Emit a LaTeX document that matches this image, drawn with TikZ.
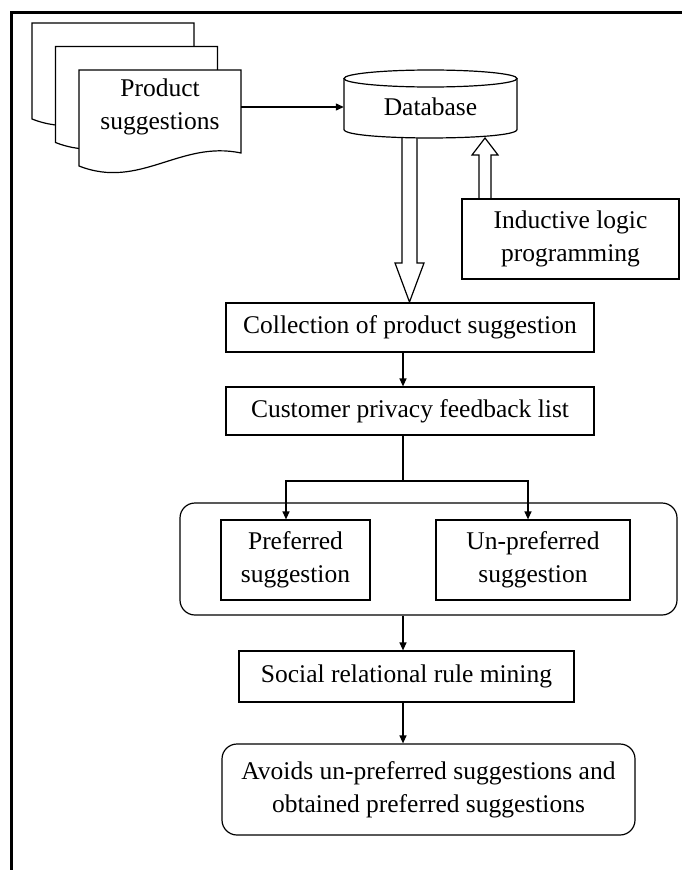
\documentclass[tikz,border=0pt]{standalone}
\usepackage{fontspec}
\setmainfont{Liberation Serif}
\usetikzlibrary{arrows.meta}
\begin{document}
\begin{tikzpicture}[x=1pt,y=-1pt,
  plain/.style={line width=1.2pt, line join=miter},
  box/.style={draw, plain, fill=white, inner sep=0pt, align=center, font=\fontsize{25.5}{33}\selectfont},
  txt/.style={inner sep=0pt, align=center, font=\fontsize{25.5}{33}\selectfont},
  conn/.style={line width=1.2pt, -{Triangle[length=8pt,width=7pt]}},
]
\useasboundingbox (0,0) rectangle (682,870);
% frame
\draw[line width=3pt, line join=miter] (11.5,872) -- (11.5,12.5) -- (684,12.5);

% document stack
\foreach \d in {-47,-23.5,0} {
  \draw[plain, fill=white, shift={(\d,\d)}] (79,70) -- (241,70) -- (241,153)
    .. controls (180,140) and (140,190) .. (79,166) -- cycle;
}
\node[txt, minimum width=162pt] (docf) at (160,107) {Product\\suggestions};

% hollow arrows
\draw[plain, fill=white] (402,137) -- (402,263) -- (395,263) -- (409.5,302) -- (424,263) -- (417,263) -- (417,137);
\draw[plain, fill=white] (479,199) -- (479,155) -- (472,155) -- (485,138) -- (498,155) -- (491,155) -- (491,199);

% database cylinder
\draw[plain, fill=white] (344,78.5) -- (344,129.5) .. controls (344,140.8) and (517,140.8) .. (517,129.5) -- (517,78.5);
\draw[plain, fill=white] (430.5,78.5) ellipse[x radius=86.5, y radius=8.5];
\node[txt, minimum width=173pt, minimum height=60pt] (db) at (430.5,107) {Database};

\draw[conn] (docf.east) -- (docf.east -| db.west);

% ILP
\node[box, minimum width=217pt, minimum height=80pt] (ilp) at (570.5,239) {Inductive logic\\programming};

% main flow
\node[box, minimum width=368pt, minimum height=49pt] (coll) at (410,327.5) {Collection of product suggestion};
\node[box, minimum width=368pt, minimum height=48pt] (cust) at (410,411) {Customer privacy feedback list};
\draw[conn] ([xshift=-7pt]coll.south) -- ([xshift=-7pt]cust.north);

\node[draw, plain, rounded corners=15pt, minimum width=497pt, minimum height=112pt, inner sep=0pt] (cont) at (428.5,559) {};
\node[box, minimum width=149pt, minimum height=80pt] (pref) at (295.5,560) {Preferred\\suggestion};
\node[box, minimum width=194pt, minimum height=80pt] (unp) at (533,560) {Un-preferred\\suggestion};

\coordinate (sp) at (403,481);
\draw[conn] ([xshift=-7pt]cust.south) -- (sp) -| ([xshift=-9.5pt]pref.north);
\draw[conn] (sp) -| ([xshift=-5pt]unp.north);

\node[box, minimum width=335pt, minimum height=51pt] (soc) at (406.5,676.5) {Social relational rule mining};
\draw[conn] ([xshift=-25.5pt]cont.south) -- ([xshift=-3.5pt]soc.north);

\node[box, rounded corners=15pt, minimum width=413pt, minimum height=91pt] (avoid) at (428.5,789.5) {Avoids un-preferred suggestions and\\obtained preferred suggestions};
\draw[conn] ([xshift=-3.5pt]soc.south) -- ([xshift=-25.5pt]avoid.north);
\end{tikzpicture}
\end{document}
